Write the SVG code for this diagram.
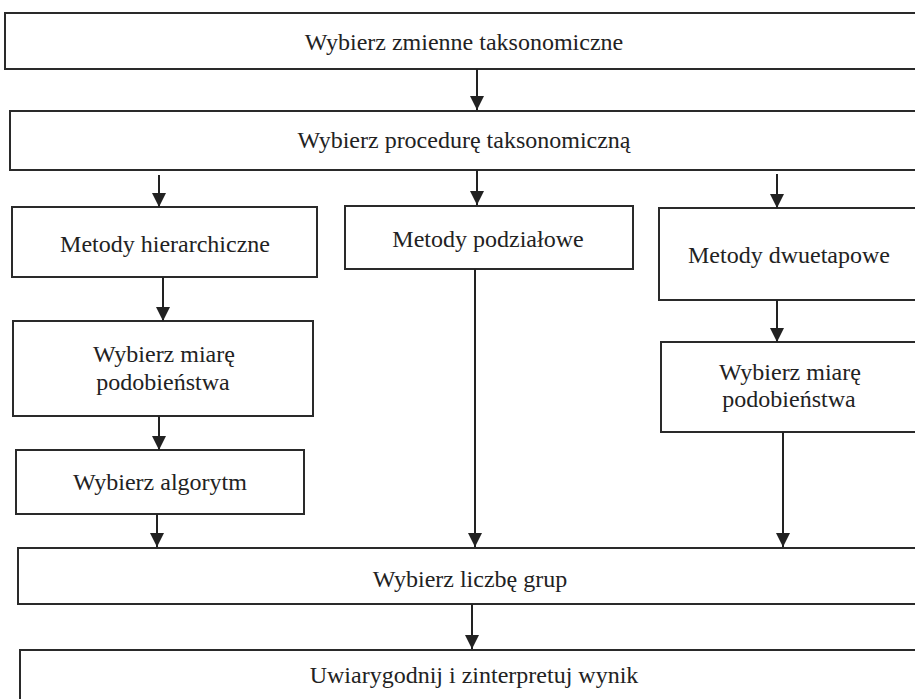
<svg xmlns="http://www.w3.org/2000/svg" width="915" height="699" viewBox="0 0 915 699">
<style>
.box{fill:#fff;stroke:#2a2a2a;stroke-width:2}
.lbl{font-family:"Liberation Serif","Times New Roman",serif;font-size:24px;fill:#222;text-anchor:middle}
.conn{stroke:#222;stroke-width:2;fill:none}
</style>
<defs>
<marker id="ah" markerUnits="userSpaceOnUse" markerWidth="15" markerHeight="15" refX="14" refY="7" orient="auto">
<path d="M0,0 L14,7 L0,14 z" fill="#222"/>
</marker>
</defs>
<rect width="915" height="699" fill="#fff"/>
<g id="n1"><rect class="box" x="5" y="13" width="930" height="56"/><text class="lbl" x="464" y="50">Wybierz zmienne taksonomiczne</text></g>
<g id="n2"><rect class="box" x="10" y="111" width="930" height="59"/><text class="lbl" x="464" y="148">Wybierz procedurę taksonomiczną</text></g>
<g id="n3"><rect class="box" x="12" y="207" width="305" height="70"/><text class="lbl" x="165" y="252">Metody hierarchiczne</text></g>
<g id="n4"><rect class="box" x="345" y="206" width="288" height="63"/><text class="lbl" x="488" y="247">Metody podziałowe</text></g>
<g id="n5"><rect class="box" x="659" y="208" width="280" height="92"/><text class="lbl" x="789" y="263">Metody dwuetapowe</text></g>
<g id="n6"><rect class="box" x="13" y="321" width="300" height="95"/><text class="lbl" x="164" y="362">Wybierz miarę</text><text class="lbl" x="163" y="390">podobieństwa</text></g>
<g id="n7"><rect class="box" x="661" y="342" width="280" height="90"/><text class="lbl" x="790" y="380">Wybierz miarę</text><text class="lbl" x="789" y="407">podobieństwa</text></g>
<g id="n8"><rect class="box" x="16" y="450" width="288" height="64"/><text class="lbl" x="160" y="490">Wybierz algorytm</text></g>
<g id="n9"><rect class="box" x="18" y="548" width="920" height="56"/><text class="lbl" x="470" y="587">Wybierz liczbę grup</text></g>
<g id="n10"><rect class="box" x="20" y="650" width="920" height="80"/><text class="lbl" x="474" y="683">Uwiarygodnij i zinterpretuj wynik</text></g>
<g id="connectors">
<line class="conn" x1="477" y1="69" x2="477" y2="110" marker-end="url(#ah)"/>
<line class="conn" x1="159" y1="175" x2="159" y2="207" marker-end="url(#ah)"/>
<line class="conn" x1="477" y1="170" x2="477" y2="205" marker-end="url(#ah)"/>
<line class="conn" x1="777" y1="174" x2="777" y2="208" marker-end="url(#ah)"/>
<line class="conn" x1="163" y1="277" x2="163" y2="321" marker-end="url(#ah)"/>
<line class="conn" x1="777" y1="300" x2="777" y2="342" marker-end="url(#ah)"/>
<line class="conn" x1="159" y1="416" x2="159" y2="450" marker-end="url(#ah)"/>
<line class="conn" x1="157" y1="514" x2="157" y2="547" marker-end="url(#ah)"/>
<line class="conn" x1="475" y1="269" x2="475" y2="547" marker-end="url(#ah)"/>
<line class="conn" x1="783" y1="432" x2="783" y2="547" marker-end="url(#ah)"/>
<line class="conn" x1="472" y1="604" x2="472" y2="649" marker-end="url(#ah)"/>
</g>
</svg>
